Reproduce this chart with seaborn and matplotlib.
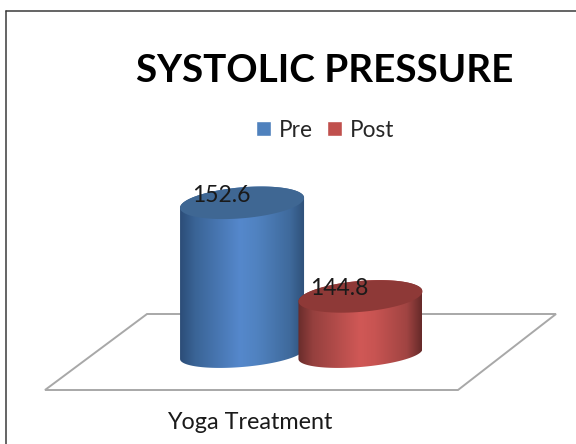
import numpy as np
import pandas as pd
import matplotlib
matplotlib.use("Agg")
import matplotlib.pyplot as plt
from matplotlib.colors import LinearSegmentedColormap
from matplotlib.lines import Line2D
from matplotlib.patches import Polygon
import seaborn as sns

# data
categories = ["Yoga Treatment"]
series_names = ["Pre", "Post"]
series_values = [152.6, 144.8]
chart_title = "SYSTOLIC PRESSURE"

W, H = 576, 444
BASE_PX = 354        # pixel row of the value-axis baseline
PX_PER_UNIT = 12.0
PX_PER_X = 296.0
AX_BOTTOM_PX = 390
CENTER_PX = 301.25   # pixel column of the category centre
AXIS_MIN = 140.0

sns.set_theme(style="white")
plt.rcParams["font.family"] = ["Lato", "DejaVu Sans"]

fig = plt.figure(figsize=(W / 100, H / 100), dpi=100, facecolor="white")
ax = fig.add_axes([0, 1 - AX_BOTTOM_PX / H, 1, AX_BOTTOM_PX / H])
ax.patch.set_alpha(0)

df = pd.DataFrame({
    "group": categories * len(series_names),
    "series": series_names,
    "value": series_values,
})
sns.barplot(data=df, x="group", y="value", hue="series", hue_order=series_names,
            palette=["#4F81BD", "#C0504D"], width=0.8, gap=0, saturation=1, ax=ax)

ax.set_xlim(-CENTER_PX / PX_PER_X, (W - CENTER_PX) / PX_PER_X)
ax.set_ylim(AXIS_MIN - (AX_BOTTOM_PX - BASE_PX) / PX_PER_UNIT, AXIS_MIN + BASE_PX / PX_PER_UNIT)
ax.set_ylabel("")
ax.set_yticks([])
ax.set_xticks([])
ax.set_xlabel(categories[0], fontsize=16.8, color="#1a1a1a", labelpad=16, x=250 / W)
sns.despine(ax=ax, left=True, bottom=True, top=True, right=True)

# floor of the 3D plot
floor = [(147, 314), (556, 314), (458, 390), (45, 390)]
fig.add_artist(Polygon([(x / W, 1 - y / H) for x, y in floor], closed=True, fill=False,
                       edgecolor="#A8A8A8", linewidth=1.4, transform=fig.transFigure, zorder=0))
# outer frame
fig.add_artist(Line2D([6 / W, 6 / W], [0, 1 - 11 / H], color="#3a3a3a", lw=1.1))
fig.add_artist(Line2D([6 / W, 1], [1 - 11 / H, 1 - 11 / H], color="#3a3a3a", lw=1.1))

body_cmaps = [
    LinearSegmentedColormap.from_list("b", [(0, "#2C4D78"), (0.12, "#3A6496"), (0.48, "#5588CC"),
                                            (0.62, "#5082C0"), (0.88, "#3F6A9C"), (1, "#2F5078")]),
    LinearSegmentedColormap.from_list("r", [(0, "#692C2B"), (0.12, "#95403E"), (0.5, "#D05856"),
                                            (0.62, "#C85452"), (0.88, "#A04442"), (1, "#662A29")]),
]
cap_colors = ["#3F6793", "#8E3937"]
semi_x_px = 62.0
top_semi_y_px = 15.5
bottom_semi_y_px = 13.0
shear_px = 5.0
grad = np.linspace(0, 1, 256)[None, :]
xlim, ylim = ax.get_xlim(), ax.get_ylim()

bars = [p for c in ax.containers for p in c]
for i, (bar, val) in enumerate(zip(bars, series_values)):
    cx = bar.get_x() + bar.get_width() / 2
    bar.set_visible(False)
    a = semi_x_px / PX_PER_X
    k = shear_px / PX_PER_UNIT

    def ring(t, y0, semi):
        return np.column_stack([cx + a * np.cos(t),
                                y0 + semi / PX_PER_UNIT * np.sin(t) + k * np.cos(t)])

    lower = ring(np.linspace(np.pi, 2 * np.pi, 80), AXIS_MIN, bottom_semi_y_px)
    upper = ring(np.linspace(0, np.pi, 80), val, top_semi_y_px)
    z = 2 + i * 2
    body = Polygon(np.vstack([lower, upper]), closed=True, facecolor="none", edgecolor="none", zorder=z)
    ax.add_patch(body)
    im = ax.imshow(grad, extent=[cx - a, cx + a, AXIS_MIN - 3, val + 3], aspect="auto",
                   cmap=body_cmaps[i], zorder=z, origin="lower")
    im.set_clip_path(body)
    cap = ring(np.linspace(0, 2 * np.pi, 160), val, top_semi_y_px)
    ax.add_patch(Polygon(cap, closed=True, facecolor=cap_colors[i], edgecolor="none", zorder=z + 0.5))
    ax.text(cx - 21 / PX_PER_X, val + 7.5 / PX_PER_UNIT, f"{val}", ha="center", va="center",
            fontsize=16.5, color="#1a1a1a", zorder=10)
ax.set_xlim(xlim)
ax.set_ylim(ylim)

sns.move_legend(ax, "center", bbox_to_anchor=(325 / W, (AX_BOTTOM_PX - 130) / AX_BOTTOM_PX),
                ncol=2, frameon=False, title=None, fontsize=16.3, handlelength=0.66,
                handleheight=0.66, handletextpad=0.35, columnspacing=0.6)

fig.text(325 / W, 1 - 71 / H, chart_title, ha="center", va="center", fontsize=27.8,
         fontweight="bold", color="black")

fig.savefig("out.png", dpi=100, facecolor="white")
